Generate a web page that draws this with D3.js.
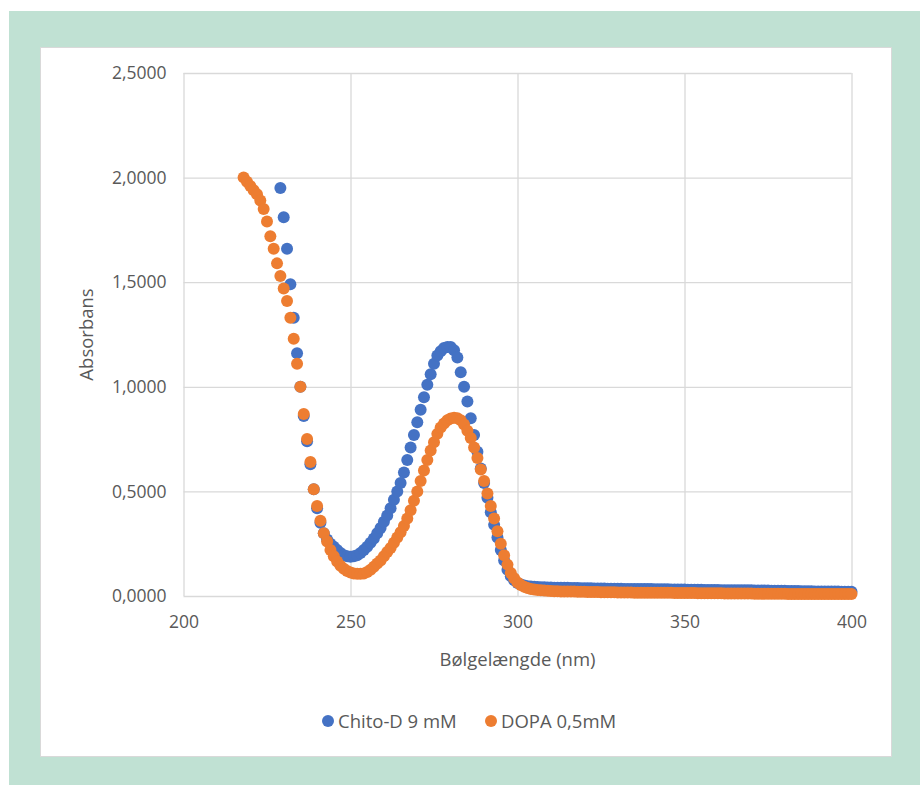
<!DOCTYPE html>
<html>
<head>
<meta charset="utf-8">
<script src="https://cdn.jsdelivr.net/npm/d3@7"></script>
<style>
  body { margin: 0; background: #fff; }
  text { font-family: "Open Sans", sans-serif; fill: #595959; }
</style>
</head>
<body>
<div id="chart"></div>
<script>
// Chito-D 9 mM, 1 nm steps starting at 229 nm
const chitoStart = 229;
const chitoValues = [
  1.95, 1.81, 1.66, 1.49, 1.33, 1.16, 1.00, 0.86, 0.74, 0.63,       // 229
  0.51, 0.42, 0.35, 0.30, 0.27, 0.25, 0.235, 0.22, 0.205, 0.195,    // 239
  0.19, 0.188, 0.19, 0.195, 0.205, 0.22, 0.235, 0.255, 0.275, 0.30, // 249
  0.325, 0.355, 0.385, 0.42, 0.46, 0.50, 0.54, 0.59, 0.65, 0.71,    // 259
  0.77, 0.83, 0.89, 0.95, 1.01, 1.06, 1.11, 1.15, 1.17, 1.185,      // 269
  1.19, 1.19, 1.175, 1.14, 1.07, 1.00, 0.93, 0.85, 0.77, 0.69,      // 279
  0.61, 0.54, 0.47, 0.40, 0.34, 0.28, 0.22, 0.17, 0.125, 0.095,     // 289
  0.075, 0.062, 0.055, 0.050, 0.047, 0.045, 0.044, 0.043, 0.042, 0.042, // 299
  0.041, 0.041, 0.040, 0.040, 0.039, 0.039, 0.039, 0.038, 0.038, 0.038, // 309
  0.037, 0.037, 0.037, 0.037, 0.036, 0.036, 0.036, 0.036, 0.035, 0.035, // 319
  0.035, 0.035, 0.035, 0.034, 0.034, 0.034, 0.034, 0.033, 0.033, 0.033, // 329
  0.033, 0.033, 0.032, 0.032, 0.032, 0.032, 0.032, 0.031, 0.031, 0.031, // 339
  0.031, 0.031, 0.030, 0.030, 0.030, 0.030, 0.030, 0.029, 0.029, 0.029, // 349
  0.029, 0.029, 0.028, 0.028, 0.028, 0.028, 0.028, 0.027, 0.027, 0.027, // 359
  0.027, 0.027, 0.026, 0.026, 0.026, 0.026, 0.026, 0.025, 0.025, 0.025, // 369
  0.025, 0.025, 0.024, 0.024, 0.024, 0.024, 0.023, 0.023, 0.023, 0.023, // 379
  0.022, 0.022, 0.022, 0.022, 0.021, 0.021, 0.021, 0.021, 0.020, 0.020, // 389
  0.020, 0.020                                                          // 399
];

// DOPA 0,5mM, 1 nm steps starting at 218 nm
const dopaStart = 218;
const dopaValues = [
  2.00, 1.98, 1.96, 1.94, 1.92, 1.89, 1.85, 1.79, 1.72, 1.66,       // 218
  1.59, 1.53, 1.47, 1.41, 1.33, 1.23, 1.11, 1.00, 0.87, 0.75,       // 228
  0.64, 0.51, 0.43, 0.36, 0.30, 0.26, 0.22, 0.19, 0.165, 0.145,     // 238
  0.13, 0.12, 0.112, 0.108, 0.106, 0.106, 0.108, 0.115, 0.125, 0.14, // 248
  0.155, 0.17, 0.19, 0.21, 0.23, 0.255, 0.28, 0.305, 0.335, 0.37,   // 258
  0.41, 0.455, 0.50, 0.55, 0.60, 0.65, 0.695, 0.735, 0.775, 0.805,  // 268
  0.825, 0.84, 0.848, 0.852, 0.85, 0.84, 0.82, 0.79, 0.755, 0.71,   // 278
  0.66, 0.605, 0.55, 0.49, 0.43, 0.37, 0.31, 0.25, 0.195, 0.15,     // 288
  0.11, 0.085, 0.065, 0.052, 0.044, 0.038, 0.034, 0.031, 0.029, 0.027, // 298
  0.026, 0.025, 0.024, 0.023, 0.023, 0.022, 0.022, 0.021, 0.021, 0.021, // 308
  0.020, 0.020, 0.020, 0.019, 0.019, 0.019, 0.019, 0.018, 0.018, 0.018, // 318
  0.018, 0.018, 0.017, 0.017, 0.017, 0.017, 0.017, 0.016, 0.016, 0.016, // 328
  0.016, 0.016, 0.016, 0.015, 0.015, 0.015, 0.015, 0.015, 0.015, 0.014, // 338
  0.014, 0.014, 0.014, 0.014, 0.014, 0.014, 0.013, 0.013, 0.013, 0.013, // 348
  0.013, 0.013, 0.013, 0.013, 0.012, 0.012, 0.012, 0.012, 0.012, 0.012, // 358
  0.012, 0.012, 0.012, 0.011, 0.011, 0.011, 0.011, 0.011, 0.011, 0.011, // 368
  0.011, 0.011, 0.011, 0.010, 0.010, 0.010, 0.010, 0.010, 0.010, 0.010, // 378
  0.010, 0.010, 0.010, 0.010, 0.010, 0.009, 0.009, 0.009, 0.009, 0.009, // 388
  0.009, 0.009, 0.009                                                   // 398
];

const xTicks = [200, 250, 300, 350, 400];
const yTicks = [0, 0.5, 1.0, 1.5, 2.0, 2.5];
const seriesNames = ['Chito-D 9 mM', 'DOPA 0,5mM'];
const seriesColors = ['#4472C4', '#ED7D31'];

const width = 920, height = 785;
const plot = { left: 183.5, right: 851.5, top: 73, bottom: 596 };

const svg = d3.select('#chart')
  .append('svg')
  .attr('width', width)
  .attr('height', height);

// outer frame + chart panel
svg.append('rect')
  .attr('x', 9).attr('y', 11)
  .attr('width', width - 9).attr('height', height - 11)
  .attr('fill', '#c0e1d3');

svg.append('rect')
  .attr('x', 40.5).attr('y', 47.5)
  .attr('width', 851).attr('height', 709)
  .attr('fill', '#fff')
  .attr('stroke', '#d9d9d9');

const x = d3.scaleLinear().domain([200, 400]).range([plot.left, plot.right]);
const y = d3.scaleLinear().domain([0, 2.5]).range([plot.bottom, plot.top]);

const fmtY = v => d3.format('.4f')(v).replace('.', ',');

// gridlines + labels
const yAxis = svg.append('g')
  .attr('transform', 'translate(' + plot.left + ',0)')
  .call(d3.axisLeft(y).tickValues(yTicks).tickFormat(fmtY)
    .tickSize(-(plot.right - plot.left)).tickPadding(17));

const xAxis = svg.append('g')
  .attr('transform', 'translate(0,' + plot.bottom + ')')
  .call(d3.axisBottom(x).tickValues(xTicks).tickFormat(d3.format('d'))
    .tickSize(-(plot.bottom - plot.top)).tickPadding(20));

[yAxis, xAxis].forEach(function (g) {
  g.select('.domain').remove();
  g.selectAll('.tick line').attr('stroke', '#d9d9d9').attr('stroke-width', 1.3);
  g.selectAll('.tick text')
    .attr('font-family', '"Open Sans", sans-serif')
    .attr('font-size', 17.5)
    .attr('fill', '#595959');
});

// axis titles
svg.append('text')
  .attr('x', (plot.left + plot.right) / 2)
  .attr('y', 666)
  .attr('text-anchor', 'middle')
  .attr('font-size', 18.5)
  .text('Bølgelængde (nm)');

svg.append('text')
  .attr('transform', 'translate(93,' + ((plot.top + plot.bottom) / 2) + ') rotate(-90)')
  .attr('text-anchor', 'middle')
  .attr('font-size', 18.5)
  .text('Absorbans');

// series
const series = [
  { name: seriesNames[0], color: seriesColors[0],
    points: chitoValues.map(function (v, i) { return { nm: chitoStart + i, a: v }; }) },
  { name: seriesNames[1], color: seriesColors[1],
    points: dopaValues.map(function (v, i) { return { nm: dopaStart + i, a: v }; }) }
];

series.forEach(function (s) {
  svg.append('g')
    .selectAll('circle')
    .data(s.points)
    .enter()
    .append('circle')
    .attr('cx', function (d) { return x(d.nm); })
    .attr('cy', function (d) { return y(d.a); })
    .attr('r', 6)
    .attr('fill', s.color);
});

// legend
const legendX = [328, 491];
const legend = svg.append('g');
series.forEach(function (s, i) {
  legend.append('circle')
    .attr('cx', legendX[i]).attr('cy', 721)
    .attr('r', 6)
    .attr('fill', s.color);
  legend.append('text')
    .attr('x', legendX[i] + 10).attr('y', 727.5)
    .attr('font-size', 18.5)
    .text(s.name);
});
</script>
</body>
</html>
